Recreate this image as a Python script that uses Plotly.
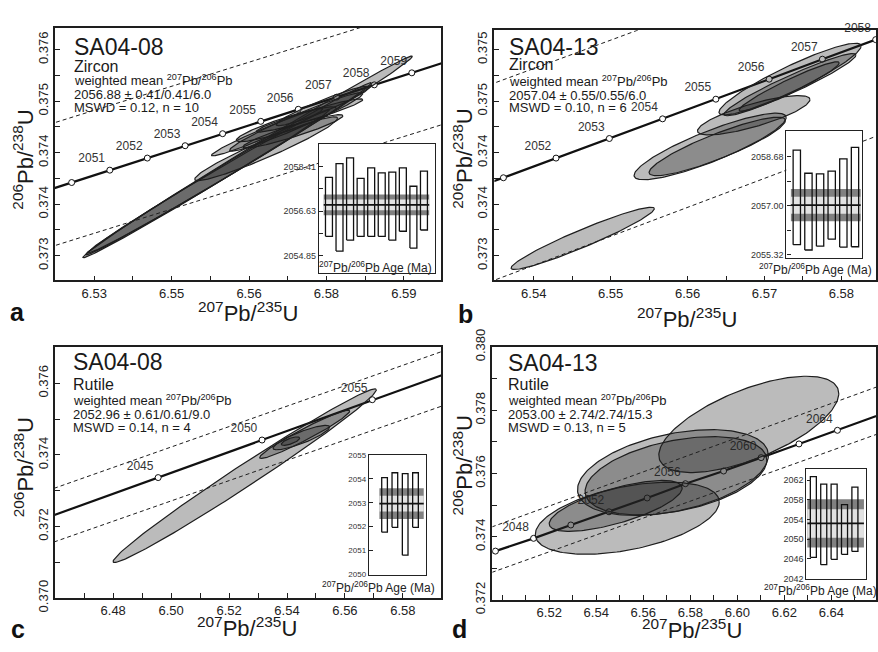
import numpy as np
import plotly.graph_objects as go

FONT = "Liberation Sans, Arial, Helvetica, sans-serif"
INK = "#1e1e1e"
W, H = 878, 652

# ---------------- concordia curves (age, 207Pb/235U, 206Pb/238U) ----------------
a_conc_age = [2049, 2050, 2051, 2052, 2053, 2054, 2055, 2056, 2057, 2058, 2059, 2060]
a_conc_x = [6.51830, 6.52563, 6.53302, 6.54029, 6.54762, 6.55488, 6.56228, 6.56954, 6.57694, 6.58427, 6.59154, 6.59881]
a_conc_y = [0.373888, 0.374066, 0.374246, 0.374422, 0.374602, 0.374777, 0.374957, 0.375132, 0.375308, 0.375488, 0.375663, 0.375839]
a_marker_ages = [2050, 2051, 2052, 2053, 2054, 2055, 2056, 2057, 2058, 2059]
a_label_ages = [2051, 2052, 2053, 2054, 2055, 2056, 2057, 2058, 2059]

b_conc_age = [2050, 2051, 2052, 2053, 2054, 2055, 2056, 2057, 2058, 2059]
b_conc_x = [6.52913, 6.53606, 6.54290, 6.54983, 6.55675, 6.56368, 6.57061, 6.57753, 6.58446, 6.59139]
b_conc_y = [0.373566, 0.373757, 0.373948, 0.374138, 0.374329, 0.374520, 0.374714, 0.374908, 0.375098, 0.375289]
b_marker_ages = [2051, 2052, 2053, 2054, 2055, 2056, 2057, 2058]
b_label_ages = [2052, 2053, 2054, 2055, 2056, 2057, 2058]

c_conc_age = [2040, 2045, 2050, 2055, 2060]
c_conc_x = [6.45970, 6.49552, 6.53138, 6.56944, 6.60660]
c_conc_y = [0.372320, 0.373365, 0.374414, 0.375540, 0.376610]
c_marker_ages = [2045, 2050, 2055]
c_label_ages = [2045, 2050, 2055]

d_conc_age = [2044, 2046, 2048, 2050, 2052, 2054, 2056, 2058, 2060, 2062, 2064, 2066, 2068]
d_conc_x = [6.48090, 6.49712, 6.51335, 6.52919, 6.54542, 6.56165, 6.57792, 6.59415, 6.61012, 6.62622, 6.64258, 6.65898, 6.67520]
d_conc_y = [0.373140, 0.373545, 0.373949, 0.374371, 0.374788, 0.375225, 0.375677, 0.376078, 0.376501, 0.376935, 0.377366, 0.377810, 0.378250]
d_marker_ages = [2046, 2048, 2050, 2052, 2054, 2056, 2058, 2060, 2062, 2064, 2066]
d_label_ages = [2048, 2052, 2056, 2060, 2064]

# ---------------- decay-constant error envelopes (dashed) ----------------
a_env_up_x = [6.5200, 6.5900]; a_env_up_y = [0.374883, 0.376519]
a_env_lo_x = [6.5200, 6.6000]; a_env_lo_y = [0.373092, 0.374970]
b_env_up_x = [6.5300, 6.5900]; b_env_up_y = [0.374542, 0.376195]
b_env_lo_x = [6.5300, 6.5900]; b_env_lo_y = [0.372625, 0.374314]
c_env_up_x = [6.4550, 6.6000]; c_env_up_y = [0.372934, 0.377073]
c_env_lo_x = [6.4550, 6.6000]; c_env_lo_y = [0.371437, 0.375548]
d_env_up_x = [6.4900, 6.6700]; d_env_up_y = [0.374158, 0.379027]
d_env_lo_x = [6.4900, 6.6700]; d_env_lo_y = [0.372722, 0.377526]

# ---------------- error ellipses: centre, sigma x, sigma y, rho ----------------
a_ell_cx = [6.55974, 6.55606, 6.55219, 6.56331, 6.56351, 6.56915, 6.57431, 6.56722, 6.56851, 6.57173]
a_ell_cy = [0.374440, 0.374267, 0.374087, 0.374558, 0.374800, 0.374949, 0.375181, 0.374915, 0.374812, 0.375042]
a_ell_sx = [0.03193, 0.02767, 0.02341, 0.01384, 0.01080, 0.01291, 0.00904, 0.00968, 0.00968, 0.01031]
a_ell_sy = [0.001468, 0.001253, 0.001045, 0.000464, 0.000346, 0.000426, 0.000288, 0.000254, 0.000242, 0.000242]
a_ell_rho = [0.99692, 0.99638, 0.9956, 0.955, 0.9757, 0.968, 0.949, 0.9135, 0.932, 0.9537]

b_ell_cx = [6.57332, 6.57332, 6.57321, 6.56860, 6.56293, 6.56386, 6.54637]
b_ell_cy = [0.374715, 0.374661, 0.374643, 0.374364, 0.374061, 0.374061, 0.373169]
b_ell_sx = [0.009236, 0.008573, 0.006508, 0.007313, 0.009885, 0.008860, 0.009314]
b_ell_sy = [0.000348, 0.000302, 0.000240, 0.000191, 0.000323, 0.000284, 0.000302]
b_ell_rho = [0.922, 0.953, 0.954, 0.795, 0.869, 0.889, 0.953]

c_ell_cx = [6.52541, 6.54610, 6.54496, 6.54120]
c_ell_cy = [0.373418, 0.374573, 0.374483, 0.374383]
c_ell_sx = [0.04544, 0.01555, 0.00979, 0.00317]
c_ell_sy = [0.002424, 0.000674, 0.000341, 0.000118]
c_ell_rho = [0.9889, 0.964, 0.863, 0.704]

d_ell_cx = [6.60487, 6.57262, 6.57389, 6.55318, 6.54826]
d_ell_cy = [0.377553, 0.376030, 0.375928, 0.374586, 0.374975]
d_ell_sx = [0.03826, 0.04059, 0.03864, 0.03911, 0.02826]
d_ell_sy = [0.001523, 0.001357, 0.001237, 0.001140, 0.000805]
d_ell_rho = [0.64, 0.40, 0.40, 0.45, 0.70]

# ---------------- inset: 207Pb/206Pb ages (bar top / bottom) ----------------
a_age_top = [2057.97, 2058.52, 2058.75, 2057.93, 2058.35, 2058.15, 2058.18, 2058.35, 2057.62, 2058.22]
a_age_bot = [2055.63, 2055.04, 2055.48, 2055.63, 2055.63, 2055.63, 2055.48, 2055.83, 2055.16, 2055.88]
a_mean, a_err_out, a_err_in = 2056.88, 0.41, 0.21

b_age_top = [2058.90, 2058.11, 2058.09, 2058.18, 2058.60, 2058.99]
b_age_bot = [2055.67, 2055.49, 2055.62, 2055.86, 2055.59, 2055.60]
b_mean, b_err_out, b_err_in = 2057.02, 0.55, 0.29

c_age_top = [2054.05, 2054.25, 2054.21, 2054.25]
c_age_bot = [2051.77, 2051.97, 2050.81, 2051.97]
c_mean, c_err_out, c_err_in = 2052.96, 0.64, 0.33

d_age_top = [2062.7, 2061.2, 2061.2, 2057.0, 2060.6]
d_age_bot = [2046.3, 2044.8, 2045.9, 2046.9, 2047.5]
d_mean, d_err_out, d_err_in = 2053.2, 4.9, 2.9

# ---------------- tick labels ----------------
a_xt = [6.5300, 6.5375, 6.5450, 6.5525, 6.5600, 6.5675, 6.5750, 6.5825, 6.5900]
a_xt_text = ["6.53", "", "6.55", "", "6.56", "", "6.58", "", "6.59"]
a_yt = [0.373, 0.373375, 0.37375, 0.374125, 0.3745, 0.374875, 0.37525, 0.375625, 0.376]
a_yt_text = ["0.373", "", "0.374", "", "0.374", "", "0.375", "", "0.376"]

b_xt = [6.540, 6.545, 6.550, 6.555, 6.560, 6.565, 6.570, 6.575, 6.580]
b_xt_text = ["6.54", "", "6.55", "", "6.56", "", "6.57", "", "6.58"]
b_yt = [0.373, 0.37325, 0.3735, 0.37375, 0.374, 0.37425, 0.3745, 0.37475, 0.375]
b_yt_text = ["0.373", "", "0.374", "", "0.374", "", "0.375", "", "0.375"]

c_xt = [6.47, 6.48, 6.49, 6.50, 6.51, 6.52, 6.53, 6.54, 6.55, 6.56, 6.57, 6.58]
c_xt_text = ["", "6.48", "", "6.50", "", "6.52", "", "6.54", "", "6.56", "", "6.58"]
c_yt = [0.370, 0.371, 0.372, 0.373, 0.374, 0.375, 0.376]
c_yt_text = ["0.370", "", "0.372", "", "0.374", "", "0.376"]

d_xt = [6.50, 6.51, 6.52, 6.53, 6.54, 6.55, 6.56, 6.57, 6.58, 6.59, 6.60, 6.61, 6.62, 6.63, 6.64, 6.65]
d_xt_text = ["", "", "6.52", "", "6.54", "", "6.56", "", "6.58", "", "6.60", "", "6.62", "", "6.64", ""]
d_yt = [0.372, 0.373, 0.374, 0.375, 0.376, 0.377, 0.378, 0.379, 0.380]
d_yt_text = ["0.372", "", "0.374", "", "0.376", "", "0.378", "", "0.380"]

a_in_yt = [2054.85, 2055.74, 2056.63, 2057.52, 2058.41]
a_in_yt_text = ["2054.85", "", "2056.63", "", "2058.41"]
b_in_yt = [2055.32, 2056.16, 2057.00, 2057.84, 2058.68]
b_in_yt_text = ["2055.32", "", "2057.00", "", "2058.68"]
c_in_yt = [2050, 2051, 2052, 2053, 2054, 2055]
c_in_yt_text = ["2050", "2051", "2052", "2053", "2054", "2055"]
d_in_yt = [2042, 2046, 2050, 2054, 2058, 2062]
d_in_yt_text = ["2042", "2046", "2050", "2054", "2058", "2062"]

# ---------------- text ----------------
a_info = ["SA04-08", "Zircon", "weighted mean <sup>207</sup>Pb/<sup>206</sup>Pb",
          "2056.88 ± 0.41/0.41/6.0", "MSWD = 0.12, n = 10"]
b_info = ["SA04-13", "Zircon", "weighted mean <sup>207</sup>Pb/<sup>206</sup>Pb",
          "2057.04 ± 0.55/0.55/6.0", "MSWD = 0.10, n = 6"]
c_info = ["SA04-08", "Rutile", "weighted mean <sup>207</sup>Pb/<sup>206</sup>Pb",
          "2052.96 ± 0.61/0.61/9.0", "MSWD = 0.14, n = 4"]
d_info = ["SA04-13", "Rutile", "weighted mean <sup>207</sup>Pb/<sup>206</sup>Pb",
          "2053.00 ± 2.74/2.74/15.3", "MSWD = 0.13, n = 5"]

X_TITLE = "<sup>207</sup>Pb/<sup>235</sup>U"
Y_TITLE = "<sup>206</sup>Pb/<sup>238</sup>U"
INSET_TITLE = "<sup>207</sup>Pb/<sup>206</sup>Pb Age (Ma)"


def px(x):
    return x / W


def py(y):
    return 1 - y / H


panels = [
    dict(letter="a", ax="", conc=(a_conc_age, a_conc_x, a_conc_y), marks=a_marker_ages, labs=a_label_ages,
         env=(a_env_up_x, a_env_up_y, a_env_lo_x, a_env_lo_y),
         ell=(a_ell_cx, a_ell_cy, a_ell_sx, a_ell_sy, a_ell_rho),
         dom=(55, 442, 10, 276), xr=[6.52239, 6.59729], yr=[0.37264, 0.376323],
         xt=(a_xt, a_xt_text), yt=(a_yt, a_yt_text),
         info=a_info, info_x=72, info_y=[30, 50.5, 65.5, 80.5, 94],
         xtitle=(248, 309), ytitle=(23, 149), letter_pos=(18, 309),
         inset=dict(ax="5", top=a_age_top, bot=a_age_bot, mean=a_mean, eo=a_err_out, ei=a_err_in,
                    dom=(319.3, 435, 132, 268.5), xr=[0.05, 11.0], yr=[2054.157, 2059.32],
                    band=[0.5, 10.5], barw=0.66, yt=(a_in_yt, a_in_yt_text), fs=9,
                    title=(376, 262))),
    dict(letter="b", ax="2", conc=(b_conc_age, b_conc_x, b_conc_y), marks=b_marker_ages, labs=b_label_ages,
         env=(b_env_up_x, b_env_up_y, b_env_lo_x, b_env_lo_y),
         ell=(b_ell_cx, b_ell_cy, b_ell_sx, b_ell_sy, b_ell_rho),
         dom=(495, 877, 13, 276), xr=[6.53489, 6.5845], yr=[0.37276, 0.375188],
         xt=(b_xt, b_xt_text), yt=(b_yt, b_yt_text),
         info=b_info, info_x=508, info_y=[30, 49, 65.8, 81, 94.3],
         xtitle=(688, 316), ytitle=(463.5, 148), letter_pos=(466, 311),
         inset=dict(ax="6", top=b_age_top, bot=b_age_bot, mean=b_mean, eo=b_err_out, ei=b_err_in,
                    dom=(787.3, 863.3, 119, 252), xr=[0.107, 6.63], yr=[2055.229, 2059.547],
                    band=[0.49, 6.49], barw=0.63, yt=(b_in_yt, b_in_yt_text), fs=9,
                    title=(816.5, 263.5))),
    dict(letter="c", ax="3", conc=(c_conc_age, c_conc_x, c_conc_y), marks=c_marker_ages, labs=c_label_ages,
         env=(c_env_up_x, c_env_up_y, c_env_lo_x, c_env_lo_y),
         ell=(c_ell_cx, c_ell_cy, c_ell_sx, c_ell_sy, c_ell_rho),
         dom=(55, 442, 346, 610), xr=[6.45989, 6.59333], yr=[0.370, 0.377012],
         xt=(c_xt, c_xt_text), yt=(c_yt, c_yt_text),
         info=c_info, info_x=71, info_y=[361.7, 385.8, 402, 416.7, 430.5],
         xtitle=(247, 640), ytitle=(23.5, 472), letter_pos=(18, 643),
         inset=dict(ax="7", top=c_age_top, bot=c_age_bot, mean=c_mean, eo=c_err_out, ei=c_err_in,
                    dom=(369.3, 426.7, 459.3, 585.3), xr=[-0.52, 5.04], yr=[2050.0, 2055.0],
                    band=[0.5, 4.8], barw=0.55, yt=(c_in_yt, c_in_yt_text), fs=8,
                    title=(379, 598))),
    dict(letter="d", ax="4", conc=(d_conc_age, d_conc_x, d_conc_y), marks=d_marker_ages, labs=d_label_ages,
         env=(d_env_up_x, d_env_up_y, d_env_lo_x, d_env_lo_y),
         ell=(d_ell_cx, d_ell_cy, d_ell_sx, d_ell_sy, d_ell_rho),
         dom=(493, 877, 346, 612), xr=[6.49585, 6.65897], yr=[0.372, 0.380],
         xt=(d_xt, d_xt_text), yt=(d_yt, d_yt_text),
         info=d_info, info_x=507, info_y=[362.5, 385.5, 402, 417, 430.5],
         xtitle=(693, 643), ytitle=(463, 470), letter_pos=(460, 643),
         inset=dict(ax="8", top=d_age_top, bot=d_age_bot, mean=d_mean, eo=d_err_out, ei=d_err_in,
                    dom=(807.3, 866.7, 474, 590), xr=[0.33, 6.04], yr=[2041.88, 2064.32],
                    band=[0.42, 5.87], barw=0.58, yt=(d_in_yt, d_in_yt_text), fs=9,
                    title=(821.5, 601.7))),
]


def ellipse_xy(cx, cy, sx, sy, rho, n=180):
    t = np.linspace(0, 2 * np.pi, n)
    x = cx + sx * np.cos(t)
    y = cy + sy * (rho * np.cos(t) + np.sqrt(1 - rho ** 2) * np.sin(t))
    return x, y


def rect(x0, x1, y0, y1):
    return [x0, x1, x1, x0, x0], [y0, y0, y1, y1, y0]


fig = go.Figure()
annotations = []
layout_axes = {}

for p in panels:
    xa, ya = "x" + p["ax"], "y" + p["ax"]
    # envelopes
    ux, uy, lx, ly = p["env"]
    for ex, ey in ((ux, uy), (lx, ly)):
        fig.add_trace(go.Scatter(x=ex, y=ey, mode="lines",
                                 line=dict(color=INK, width=1, dash="4px,3px"),
                                 xaxis=xa, yaxis=ya, hoverinfo="skip"))
    # concordia
    ages, cxs, cys = p["conc"]
    fig.add_trace(go.Scatter(x=cxs, y=cys, mode="lines", line=dict(color="#111", width=2.2),
                             xaxis=xa, yaxis=ya, hoverinfo="skip"))
    mx = [cxs[ages.index(a)] for a in p["marks"]]
    my = [cys[ages.index(a)] for a in p["marks"]]
    fig.add_trace(go.Scatter(x=mx, y=my, mode="markers",
                             marker=dict(size=6, color="white", line=dict(color="#111", width=1)),
                             xaxis=xa, yaxis=ya, hoverinfo="skip"))
    # age labels (unclipped, with invisible markers to set the offset)
    lx_ = [cxs[ages.index(a)] for a in p["labs"]]
    ly_ = [cys[ages.index(a)] for a in p["labs"]]
    fig.add_trace(go.Scatter(x=lx_, y=ly_, mode="markers+text", text=[str(a) for a in p["labs"]],
                             textposition="top left", cliponaxis=False,
                             textfont=dict(family=FONT, size=12, color="#333"),
                             marker=dict(size=6, color="rgba(0,0,0,0)"),
                             xaxis=xa, yaxis=ya, hoverinfo="skip"))
    # ellipses (drawn over the concordia, semi-transparent)
    for cx, cy, sx, sy, r in zip(*p["ell"]):
        ex, ey = ellipse_xy(cx, cy, sx, sy, r)
        fig.add_trace(go.Scatter(x=ex, y=ey, mode="lines", fill="toself",
                                 fillcolor="rgba(35,35,35,0.31)",
                                 line=dict(color=INK, width=1.2),
                                 xaxis=xa, yaxis=ya, hoverinfo="skip"))

    x0, x1, y0, y1 = p["dom"]
    common = dict(showline=True, mirror=True, linecolor=INK, linewidth=1.6, ticks="inside",
                  ticklen=5, tickwidth=1.3, tickcolor=INK, showgrid=False, zeroline=False,
                  tickmode="array", tickfont=dict(family=FONT, size=13, color="#222"))
    layout_axes["xaxis" + p["ax"]] = dict(common, domain=[px(x0), px(x1)], range=p["xr"], anchor=ya,
                                          tickvals=p["xt"][0], ticktext=p["xt"][1])
    layout_axes["yaxis" + p["ax"]] = dict(common, domain=[py(y1), py(y0)], range=p["yr"], anchor=xa,
                                          tickvals=p["yt"][0], ticktext=p["yt"][1], tickangle=-90)

    # text block
    sizes = [23, 16, 13, 13, 13]
    for txt, yy, fs in zip(p["info"], p["info_y"], sizes):
        annotations.append(dict(x=px(p["info_x"]), y=py(yy), xref="paper", yref="paper", text=txt,
                                showarrow=False, xanchor="left", yanchor="middle",
                                font=dict(family=FONT, size=fs, color="#1a1a1a")))
    annotations.append(dict(x=px(p["xtitle"][0]), y=py(p["xtitle"][1]), xref="paper", yref="paper",
                            text=X_TITLE, showarrow=False, xanchor="center", yanchor="middle",
                            font=dict(family=FONT, size=22, color="#1a1a1a")))
    annotations.append(dict(x=px(p["ytitle"][0]), y=py(p["ytitle"][1]), xref="paper", yref="paper",
                            text=Y_TITLE, showarrow=False, xanchor="center", yanchor="middle",
                            textangle=-90, font=dict(family=FONT, size=22, color="#1a1a1a")))
    annotations.append(dict(x=px(p["letter_pos"][0]), y=py(p["letter_pos"][1]), xref="paper", yref="paper",
                            text="<b>" + p["letter"] + "</b>", showarrow=False, xanchor="center",
                            yanchor="middle", font=dict(family=FONT, size=25, color="#111")))

    # inset
    q = p["inset"]
    ixa, iya = "x" + q["ax"], "y" + q["ax"]
    bx, by = rect(q["xr"][0], q["xr"][1], q["yr"][0], q["yr"][1])
    fig.add_trace(go.Scatter(x=bx, y=by, mode="lines", fill="toself", fillcolor="white",
                             line=dict(width=0, color="white"), xaxis=ixa, yaxis=iya, hoverinfo="skip"))
    rx, ry = rect(q["band"][0], q["band"][1], q["mean"] - q["eo"], q["mean"] + q["eo"])
    fig.add_trace(go.Scatter(x=rx, y=ry, mode="lines", fill="toself", fillcolor="#808080",
                             line=dict(width=0, color="#808080"), xaxis=ixa, yaxis=iya, hoverinfo="skip"))
    rx, ry = rect(q["band"][0], q["band"][1], q["mean"] - q["ei"], q["mean"] + q["ei"])
    fig.add_trace(go.Scatter(x=rx, y=ry, mode="lines", fill="toself", fillcolor="#e2e2e2",
                             line=dict(width=0, color="#e2e2e2"), xaxis=ixa, yaxis=iya, hoverinfo="skip"))
    fig.add_trace(go.Scatter(x=q["band"], y=[q["mean"], q["mean"]], mode="lines",
                             line=dict(color="#111", width=1.8), xaxis=ixa, yaxis=iya, hoverinfo="skip"))
    # age bars drawn as open rectangles (index, bottom, top)
    bxs, bys = [], []
    hw = q["barw"] / 2
    for i, (t, b) in enumerate(zip(q["top"], q["bot"]), start=1):
        rx, ry = rect(i - hw, i + hw, b, t)
        bxs += rx + [None]
        bys += ry + [None]
    fig.add_trace(go.Scatter(x=bxs, y=bys, mode="lines", line=dict(color="#111", width=1.3),
                             xaxis=ixa, yaxis=iya, hoverinfo="skip"))
    ix0, ix1, iy0, iy1 = q["dom"]
    layout_axes["xaxis" + q["ax"]] = dict(domain=[px(ix0), px(ix1)], range=q["xr"], anchor=iya,
                                          showline=True, mirror=True, linecolor="#222", linewidth=1.3,
                                          showticklabels=False, ticks="", showgrid=False, zeroline=False)
    layout_axes["yaxis" + q["ax"]] = dict(domain=[py(iy1), py(iy0)], range=q["yr"], anchor=ixa,
                                          showline=True, mirror=True, linecolor="#222", linewidth=1.3,
                                          ticks="inside", ticklen=4, tickwidth=1.3, tickcolor="#222",
                                          tickmode="array", tickvals=q["yt"][0], ticktext=q["yt"][1],
                                          tickfont=dict(family=FONT, size=q["fs"], color="#333"),
                                          showgrid=False, zeroline=False)
    annotations.append(dict(x=px(q["title"][0]), y=py(q["title"][1]), xref="paper", yref="paper",
                            text=INSET_TITLE, showarrow=False, xanchor="center", yanchor="middle",
                            font=dict(family=FONT, size=12, color="#222")))

fig.update_layout(width=W, height=H, margin=dict(l=0, r=0, t=0, b=0),
                  paper_bgcolor="white", plot_bgcolor="white", showlegend=False,
                  annotations=annotations, **layout_axes)

fig.write_html("out.html")
